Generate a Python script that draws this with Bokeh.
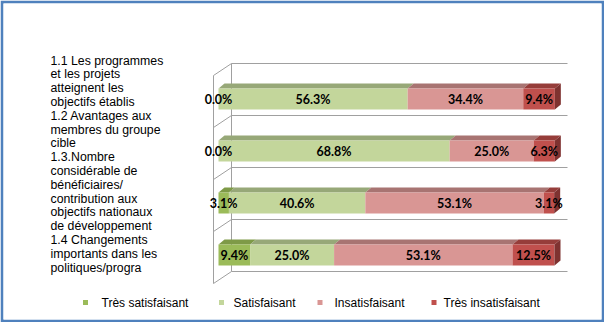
from bokeh.plotting import figure
from bokeh.models import Range1d
from bokeh.core.properties import value
from bokeh.embed import file_html
from bokeh.resources import INLINE

# ---------------- data ----------------
category_lines = [
    ["1.1 Les programmes", "et les projets", "atteignent les", "objectifs établis"],
    ["1.2 Avantages aux", "membres du groupe", "cible"],
    ["1.3.Nombre", "considérable de", "bénéficiaires/", "contribution aux",
     "objectifs nationaux", "de développement"],
    ["1.4 Changements", "importants dans les", "politiques/progra"],
]
series_names = ["Très satisfaisant", "Satisfaisant", "Insatisfaisant", "Très insatisfaisant"]
tres_satisfaisant = [0.0, 0.0, 3.1, 9.4]
satisfaisant = [56.3, 68.8, 40.6, 25.0]
insatisfaisant = [34.4, 25.0, 53.1, 53.1]
tres_insatisfaisant = [9.4, 6.3, 3.1, 12.5]
series_values = [tres_satisfaisant, satisfaisant, insatisfaisant, tres_insatisfaisant]

# ---------------- style ----------------
front_colors = ["#9BBB59", "#C3D69B", "#D99694", "#C0504D"]
top_colors = ["#7E9A47", "#97A878", "#A87472", "#963D3A"]
side_colors = ["#6B8439", "#7F8E62", "#8E5F5D", "#7F3230"]
grid_color = "#A0A0A0"
border_blue = "#4F81BD"

# pixel <-> data helpers (layout only)
SX, X0PX = 3.36, 218.0      # px per percent, px of 0 %
SY, Y0PX = 52.0, 98.5       # px per category, px of first category centre
def xpx(px): return (px - X0PX) / SX
def ypx(py): return (py - Y0PX) / SY
def dxp(px): return px / SX
def dyp(py): return py / SY

W, H, B = 604, 322, 3
p = figure(width=W, height=H, output_backend="svg", toolbar_location=None,
           x_range=Range1d(xpx(B), xpx(W - B)), y_range=Range1d(ypx(H - B), ypx(B)),
           x_axis_location=None, y_axis_location=None,
           min_border_left=B, min_border_right=B, min_border_top=B, min_border_bottom=B)
p.grid.visible = False
p.outline_line_color = None
p.border_fill_color = border_blue
p.background_fill_color = "white"

ncat = len(category_lines)

# ---------------- 3D walls ----------------
back_x0 = xpx(231)
front_x0 = xpx(213)
wall_dy = dyp(12)
first_grid = ypx(63)
gx, gy = [], []
for i in range(ncat + 1):
    yb = first_grid + i
    gx.append([front_x0, back_x0, back_x0 + 100])
    gy.append([yb + wall_dy, yb, yb])
gx.append([back_x0, back_x0]); gy.append([first_grid, first_grid + ncat])
gx.append([front_x0, front_x0]); gy.append([first_grid + wall_dy, first_grid + ncat + wall_dy])
p.multi_line(gx, gy, line_color=grid_color, line_width=1)

# ---------------- bars ----------------
half = dyp(10.5)
ddx, ddy = dxp(6), dyp(5)
for k in range(ncat):
    cum = 0.0
    segs = []
    for s in range(len(series_values)):
        v = series_values[s][k]
        segs.append((s, cum, cum + v))
        cum += v
    top, bot = k - half, k + half
    for s, l, r in segs:
        if r - l <= 0:
            continue
        p.patch([l, r, r + ddx, l + ddx], [top, top, top - ddy, top - ddy],
                fill_color=top_colors[s], line_color=None)
        p.quad(left=l, right=r, top=top, bottom=bot,
               fill_color=front_colors[s], line_color=None)
    s, l, r = segs[-1]
    p.patch([r, r + ddx, r + ddx, r], [top, top - ddy, bot - ddy, bot],
            fill_color=side_colors[s], line_color=None)
    for s, l, r in segs:
        p.text(x=[(l + r) / 2], y=[k], text=[f"{series_values[s][k]:.1f}%"],
               text_font=value("Lato"), text_font_style="bold", text_font_size="12.5px",
               text_color="black", text_align="center", text_baseline="middle")

# ---------------- category labels ----------------
line_h = dyp(13.8)
lx, ly, lt = [], [], []
idx = 0
for lines in category_lines:
    for ln in lines:
        lx.append(xpx(50)); ly.append(ypx(60) + idx * line_h); lt.append(ln)
        idx += 1
p.text(x=lx, y=ly, text=lt, text_font=value("Liberation Sans"), text_font_size="12.3px",
       text_color="black", text_align="left", text_baseline="middle")

# ---------------- legend ----------------
leg_sq_px = [85, 221, 319.5, 433.5]
leg_tx_px = [101, 233, 334, 443]
leg_y = ypx(302)
p.scatter([xpx(v) for v in leg_sq_px], [leg_y] * 4, marker="square", size=5,
          fill_color=front_colors, line_color=None)
p.text(x=[xpx(v) for v in leg_tx_px], y=[leg_y] * 4, text=series_names,
       text_font=value("Liberation Sans"), text_font_size="12px", text_color="black",
       text_align="left", text_baseline="middle")

open("out.html", "w").write(file_html(p, INLINE))
